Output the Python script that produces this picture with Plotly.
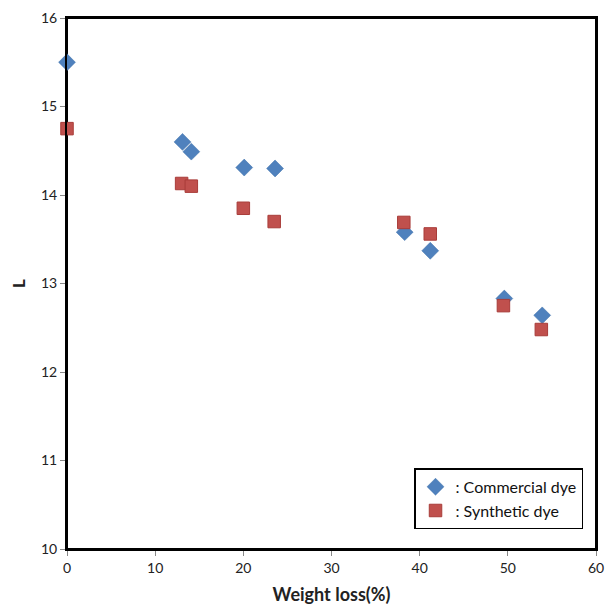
import plotly.graph_objects as go

weight_loss_commercial = [0, 13.1, 14.1, 20.1, 23.6, 38.3, 41.2, 49.6, 53.9]
L_commercial = [15.5, 14.6, 14.49, 14.31, 14.30, 13.58, 13.37, 12.83, 12.64]

weight_loss_synthetic = [0, 13.0, 14.1, 20.0, 23.5, 38.2, 41.2, 49.5, 53.8]
L_synthetic = [14.75, 14.13, 14.10, 13.85, 13.70, 13.69, 13.56, 12.75, 12.48]

x_ticks = [0, 10, 20, 30, 40, 50, 60]
y_ticks = [10, 11, 12, 13, 14, 15, 16]

fig = go.Figure()
fig.add_trace(go.Scatter(
    x=weight_loss_commercial, y=L_commercial, mode="markers",
    name=": Commercial dye",
    marker=dict(symbol="diamond", size=13, color="#4F81BD",
                line=dict(color="#3A6EA8", width=0.5)),
    cliponaxis=False,
))
fig.add_trace(go.Scatter(
    x=weight_loss_synthetic, y=L_synthetic, mode="markers",
    name=": Synthetic dye",
    marker=dict(symbol="square", size=12.5, color="#C0504D",
                line=dict(color="#A83C39", width=1)),
    cliponaxis=False,
))

font_family = "Lato, Open Sans, sans-serif"

# plot-area frame
fig.add_shape(type="rect", xref="paper", yref="paper", x0=0, x1=1, y0=0, y1=1,
              line=dict(color="black", width=2), layer="below")

fig.update_layout(
    width=598, height=597,
    margin=dict(l=59, r=10, t=10, b=56, autoexpand=False),
    paper_bgcolor="white", plot_bgcolor="white",
    font=dict(family=font_family, size=14, color="#222"),
    showlegend=True,
    legend=dict(
        x=0.656, y=0.152, xanchor="left", yanchor="top",
        bgcolor="white", bordercolor="black", borderwidth=1.5,
        font=dict(family=font_family, size=16, color="#111"),
        itemwidth=30, tracegroupgap=8,
    ),
    xaxis=dict(
        range=[0, 60], tickvals=x_ticks, ticks="outside", ticklen=5,
        tickcolor="#888", showgrid=False, zeroline=False,
        showline=True, linecolor="black", linewidth=2, mirror=True,
        title=dict(text="<b>Weight loss(%)</b>", font=dict(size=18, family=font_family), standoff=23),
        tickfont=dict(size=14), automargin=False,
    ),
    yaxis=dict(
        range=[10, 16], tickvals=y_ticks, ticks="outside", ticklen=5,
        tickcolor="#888", showgrid=False, zeroline=False,
        showline=True, linecolor="black", linewidth=2, mirror=True,
        title=dict(text="<b>L</b>", font=dict(size=17, family=font_family), standoff=16),
        tickfont=dict(size=14), automargin=False,
    ),
)

fig.write_html("out.html")
